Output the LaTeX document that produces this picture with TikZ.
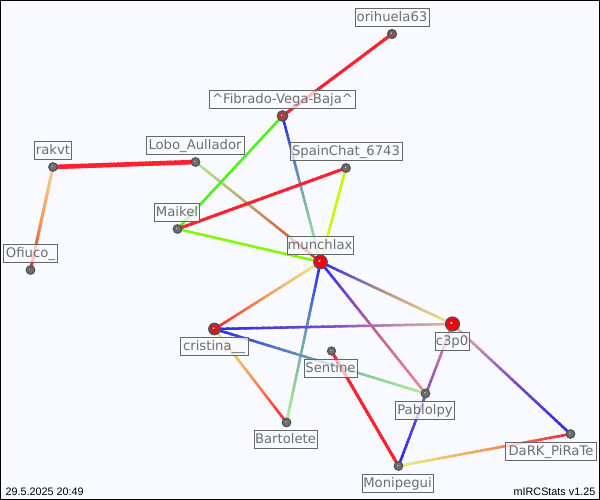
\documentclass[tikz,border=0pt]{standalone}
\usepackage{fontspec}
\setmainfont{DejaVu Sans}
\newfontfamily\footfont{Liberation Sans}
\usetikzlibrary{calc}
\definecolor{bgc}{HTML}{F8FAFF}
\definecolor{tgray}{HTML}{666666}
\definecolor{rd}{HTML}{FF2030}
\definecolor{or}{HTML}{F0A060}
\definecolor{pch}{HTML}{F0B8A0}
\definecolor{lor}{HTML}{FFD090}
\definecolor{ly}{HTML}{F5E890}
\definecolor{ylg}{HTML}{E4F080}
\definecolor{bl}{HTML}{2828F0}
\definecolor{pur}{HTML}{8050C0}
\definecolor{pnk}{HTML}{F08898}
\definecolor{mau}{HTML}{C06090}
\definecolor{lg}{HTML}{B0F090}
\definecolor{tl}{HTML}{70A8B0}
\definecolor{gn}{HTML}{50F020}
\definecolor{yg}{HTML}{80FF00}
\definecolor{lyg}{HTML}{C8F800}
\definecolor{brn}{HTML}{C09860}
\definecolor{lgb}{HTML}{B0E898}
\definecolor{tan}{HTML}{B89880}
\definecolor{ball1}{HTML}{707070}
\definecolor{ballf}{HTML}{A84048}
\definecolor{ballo}{HTML}{805858}
\definecolor{ballc}{HTML}{C82028}
\definecolor{ballr}{HTML}{F80010}
\tikzset{
  lab/.style={draw=tgray,line width=1pt,fill=bgc,fill opacity=.72,text opacity=.95,text=tgray,
    inner sep=0pt,font=\fontsize{13.2}{15}\selectfont,anchor=center,text height=11pt,text depth=2pt,minimum height=18pt},
  dot/.style={circle,inner sep=0pt,minimum size=#1,draw=black!68,line width=1.2pt},
  foot/.style={font=\footfont\fontsize{10.8}{12}\selectfont,text=black,inner sep=0pt}
}
\newcommand{\grad}[6]{%
  \foreach \i in {0,...,39}{%
    \pgfmathsetmacro\ta{\i/40}%
    \pgfmathsetmacro\tb{min(1,(\i+1.4)/40)}%
    \ifnum\i<20
      \pgfmathsetmacro\p{(\i+.5)*5}\colorlet{gc}{#4!\p!#3}%
    \else
      \pgfmathsetmacro\p{(\i-19.5)*5}\colorlet{gc}{#5!\p!#4}%
    \fi
    \draw[gc,line width=#6pt] ($(#1)!\ta!(#2)$) -- ($(#1)!\tb!(#2)$);
  }%
}
% ball: name, anchor coordinate, diameter, colour
\newcommand{\ballnode}[4]{%
  \node[dot=#3pt,fill=#4] (#1) at (#2) {};
  \fill[inner color=white,outer color=#4] ($(#2)+(-#3*.1,-#3*.1)$) circle (#3*.14);
}
\begin{document}
\begin{tikzpicture}[x=1pt,y=-1pt]
\useasboundingbox (0,0) rectangle (600,500);
\fill[bgc] (0,0) rectangle (600,500);
\draw[black,line width=1.6pt] (0,0) rectangle (600,500);
% anchor points of the balls
\coordinate (oc) at (392,34);
\coordinate (fc) at (282.5,116);
\coordinate (rc) at (53,167);
\coordinate (lc) at (195.5,162);
\coordinate (sc) at (346,168);
\coordinate (mc) at (177.5,229);
\coordinate (uc) at (320.5,262);
\coordinate (ofc) at (30.5,270);
\coordinate (cc) at (214.5,329);
\coordinate (tc) at (452.5,324);
\coordinate (sec) at (331.5,351);
\coordinate (pc) at (425.5,393.5);
\coordinate (bc) at (286.5,422.5);
\coordinate (dc) at (570.5,434);
\coordinate (moc) at (398.5,466);
% connectors
\grad{fc}{oc}{rd}{rd}{rd}{3}
\grad{rc}{lc}{rd}{rd}{rd}{4.5}
\grad{rc}{ofc}{lor}{or}{rd}{3}
\grad{lc}{uc}{lgb}{brn}{rd}{2.5}
\grad{fc}{uc}{bl}{tl}{lg}{2.5}
\grad{fc}{mc}{gn}{gn}{gn}{2.5}
\grad{mc}{sc}{rd}{rd}{rd}{3}
\grad{mc}{uc}{yg}{yg}{yg}{2.5}
\grad{sc}{uc}{lyg}{lyg}{ylg}{2.5}
\grad{uc}{cc}{ly}{or}{rd}{2.5}
\grad{uc}{tc}{bl}{tan}{ly}{2.5}
\grad{uc}{pc}{bl}{mau}{pnk}{2.5}
\grad{uc}{bc}{bl}{tl}{lg}{2.5}
\grad{cc}{tc}{bl}{pur}{pch}{2.5}
\grad{cc}{pc}{bl}{tl}{lg}{2.5}
\grad{cc}{bc}{ylg}{or}{rd}{2.5}
\grad{sec}{moc}{rd}{rd}{rd}{3}
\grad{tc}{moc}{pnk}{pur}{bl}{2.5}
\grad{tc}{dc}{pch}{pur}{bl}{2.5}
\grad{moc}{dc}{ylg}{or}{rd}{2.5}
% balls
\ballnode{o}{oc}{9}{ballo}
\ballnode{f}{fc}{10.5}{ballf}
\ballnode{r}{rc}{8.5}{ball1}
\ballnode{l}{lc}{8.5}{ball1}
\ballnode{s}{sc}{8.5}{ball1}
\ballnode{m}{mc}{8.5}{ball1}
\ballnode{u}{uc}{13.5}{ballr}
\ballnode{of}{ofc}{8.5}{ball1}
\ballnode{c}{cc}{11.5}{ballc}
\ballnode{t}{tc}{14}{ballr}
\ballnode{se}{sec}{8}{ball1}
\ballnode{p}{pc}{8.5}{ball1}
\ballnode{b}{bc}{8.5}{ball1}
\ballnode{d}{dc}{8.5}{ball1}
\ballnode{mo}{moc}{8.5}{ball1}
% labels
\node[lab,minimum width=74pt] (lo) at (392,17.3) {orihuela63};
\node[lab,minimum width=146pt] (lf) at (282.5,99.3) {\^{}Fibrado-Vega-Baja\^{}};
\node[lab,minimum width=37pt] (lr) at (53,150.3) {rakvt};
\node[lab,minimum width=98pt] (ll) at (195,145.3) {Lobo\_Aullador};
\node[lab,minimum width=112pt] (ls) at (346,151.3) {SpainChat\_6743};
\node[lab,minimum width=45pt] (lm) at (177,212.3) {Maikel};
\node[lab,minimum width=66pt] (lu) at (320,245.3) {munchlax};
\node[lab,minimum width=54pt] (lof) at (30.5,253.3) {Ofiuco\_};
\node[lab,minimum width=68pt] (lc2) at (214,346.3) {cristina\_\_};
\node[lab,minimum width=34pt] (lt) at (452,341.3) {c3p0};
\node[lab,minimum width=53pt] (lse) at (330.5,368.3) {Sentine};
\node[lab,minimum width=59pt] (lp) at (425,410.3) {Pablolpy};
\node[lab,minimum width=63pt] (lb) at (285.5,439.3) {Bartolete};
\node[lab,minimum width=91pt] (ld) at (551,451.3) {DaRK\_PiRaTe};
\node[lab,minimum width=71pt] (lmo) at (397.5,483.3) {Monipegui};
% footer
\node[foot,anchor=west] (fl) at (5.5,491.5) {29.5.2025 20:49};
\node[foot,anchor=east] (fr) at (595.5,491.5) {mIRCStats v1.25};
\end{tikzpicture}
\end{document}
